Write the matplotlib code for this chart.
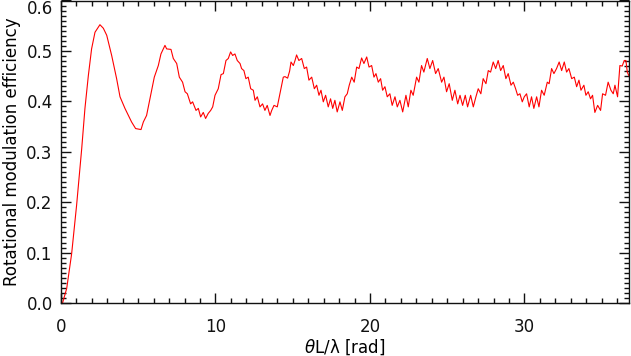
import matplotlib
matplotlib.use("Agg")
import matplotlib.pyplot as plt
from matplotlib.ticker import MultipleLocator, FormatStrFormatter

# values
theta_l = [
    0.10, 0.37, 0.69, 1.01, 1.34, 1.55, 1.77, 1.98, 2.20, 2.52, 2.74, 2.96,
    3.28, 3.60, 3.82, 4.14, 4.36, 4.57, 4.83, 5.18, 5.33, 5.54, 5.76, 6.04,
    6.30, 6.47, 6.73, 6.84, 7.12, 7.27, 7.49, 7.66, 7.87, 8.03, 8.18, 8.39,
    8.52, 8.74, 8.89, 9.04, 9.21, 9.36, 9.53, 9.69, 9.82, 9.97, 10.18, 10.36,
    10.51, 10.68, 10.83, 10.98, 11.11, 11.26, 11.41, 11.59, 11.69, 11.84, 11.97, 12.12,
    12.28, 12.45, 12.56, 12.71, 12.88, 13.05, 13.20, 13.35, 13.53, 13.64, 13.79, 14.00,
    14.17, 14.39, 14.50, 14.67, 14.80, 14.89, 15.04, 15.15, 15.25, 15.40, 15.58, 15.75,
    15.90, 16.05, 16.23, 16.40, 16.55, 16.70, 16.83, 16.98, 17.13, 17.30, 17.45, 17.59,
    17.73, 17.88, 18.06, 18.21, 18.38, 18.53, 18.66, 18.82, 18.98, 19.14, 19.29, 19.46,
    19.61, 19.79, 19.94, 20.11, 20.26, 20.39, 20.54, 20.69, 20.82, 20.97, 21.12, 21.29,
    21.44, 21.62, 21.77, 21.94, 22.12, 22.33, 22.48, 22.65, 22.80, 23.02, 23.17, 23.34,
    23.49, 23.71, 23.88, 24.06, 24.25, 24.42, 24.64, 24.79, 24.96, 25.13, 25.33, 25.50,
    25.68, 25.83, 26.00, 26.17, 26.32, 26.52, 26.69, 26.86, 27.01, 27.18, 27.33, 27.51,
    27.66, 27.81, 27.98, 28.14, 28.30, 28.46, 28.63, 28.80, 28.95, 29.13, 29.28, 29.43,
    29.56, 29.71, 29.86, 29.99, 30.14, 30.31, 30.46, 30.61, 30.79, 30.94, 31.11, 31.28,
    31.48, 31.60, 31.76, 31.91, 32.08, 32.25, 32.41, 32.58, 32.73, 32.88, 33.06, 33.23,
    33.38, 33.53, 33.66, 33.85, 33.98, 34.13, 34.28, 34.41, 34.56, 34.74, 34.93, 35.06,
    35.25, 35.42, 35.60, 35.75, 35.86, 36.03, 36.18, 36.33, 36.46, 36.57, 36.66, 36.76,
]
efficiency = [
    0.000, 0.029, 0.098, 0.194, 0.306, 0.386, 0.451, 0.504, 0.537, 0.552, 0.545, 0.531,
    0.491, 0.445, 0.409, 0.386, 0.372, 0.359, 0.346, 0.344, 0.359, 0.372, 0.405, 0.448,
    0.471, 0.494, 0.511, 0.504, 0.503, 0.485, 0.475, 0.448, 0.438, 0.419, 0.415, 0.395,
    0.399, 0.382, 0.386, 0.369, 0.378, 0.366, 0.376, 0.382, 0.389, 0.412, 0.425, 0.453,
    0.455, 0.481, 0.485, 0.498, 0.491, 0.494, 0.481, 0.475, 0.465, 0.461, 0.445, 0.448,
    0.425, 0.422, 0.402, 0.409, 0.389, 0.395, 0.382, 0.392, 0.372, 0.382, 0.392, 0.389,
    0.415, 0.448, 0.449, 0.446, 0.460, 0.478, 0.471, 0.481, 0.492, 0.481, 0.485, 0.465,
    0.468, 0.442, 0.448, 0.425, 0.432, 0.412, 0.422, 0.399, 0.412, 0.389, 0.405, 0.386,
    0.402, 0.379, 0.399, 0.382, 0.409, 0.415, 0.432, 0.448, 0.438, 0.468, 0.465, 0.486,
    0.475, 0.488, 0.468, 0.471, 0.448, 0.455, 0.438, 0.445, 0.422, 0.429, 0.409, 0.415,
    0.392, 0.409, 0.389, 0.402, 0.379, 0.412, 0.389, 0.422, 0.412, 0.448, 0.438, 0.471,
    0.458, 0.485, 0.465, 0.481, 0.455, 0.465, 0.438, 0.448, 0.419, 0.435, 0.402, 0.422,
    0.395, 0.412, 0.392, 0.412, 0.389, 0.412, 0.389, 0.409, 0.425, 0.415, 0.445, 0.435,
    0.461, 0.458, 0.478, 0.465, 0.481, 0.461, 0.471, 0.445, 0.455, 0.432, 0.438, 0.425,
    0.412, 0.415, 0.399, 0.409, 0.415, 0.389, 0.409, 0.386, 0.409, 0.389, 0.422, 0.412,
    0.438, 0.435, 0.465, 0.455, 0.465, 0.478, 0.461, 0.478, 0.458, 0.465, 0.445, 0.448,
    0.429, 0.442, 0.422, 0.432, 0.412, 0.419, 0.405, 0.412, 0.378, 0.392, 0.382, 0.415,
    0.412, 0.438, 0.422, 0.415, 0.432, 0.409, 0.471, 0.470, 0.481, 0.481, 0.458, 0.451,
]

fig = plt.figure(figsize=(6.31, 3.56), dpi=100)
ax = fig.add_axes([61 / 631, 53 / 356, 568 / 631, 302.5 / 356])

ax.plot(theta_l, efficiency, color="red", lw=0.8)

ax.set_xlim(0, 36.77)
ax.set_ylim(0, 0.6)
ax.xaxis.set_major_locator(MultipleLocator(10))
ax.xaxis.set_minor_locator(MultipleLocator(1))
ax.yaxis.set_major_locator(MultipleLocator(0.1))
ax.yaxis.set_minor_locator(MultipleLocator(0.01))
ax.yaxis.set_major_formatter(FormatStrFormatter("%.1f"))

ax.tick_params(which="both", direction="in", top=True, right=True, width=1.0, colors="#111111", labelsize=12)
ax.tick_params(which="major", length=7.2)
ax.tick_params(which="minor", length=3.6)
ax.tick_params(axis="x", pad=11)
ax.tick_params(axis="y", pad=6)
for s in ax.spines.values():
    s.set_linewidth(1.0)
    s.set_color("#111111")

ax.set_xlabel(r"$\theta$L/λ [rad]", fontsize=12, labelpad=1)
ax.set_ylabel("Rotational modulation efficiency", fontsize=12, labelpad=4)

# keep the top label inside the figure, as in the reference
fig.canvas.draw()
ylabels = ax.get_yticklabels()
ylabels[-1].set_verticalalignment("top")
ylabels[-1].set_y(ylabels[-1].get_position()[1])
for t in ax.yaxis.get_major_ticks():
    if abs(t.get_loc() - 0.6) < 1e-6:
        t.label1.set_verticalalignment("top")

fig.savefig("out.png", dpi=100)
